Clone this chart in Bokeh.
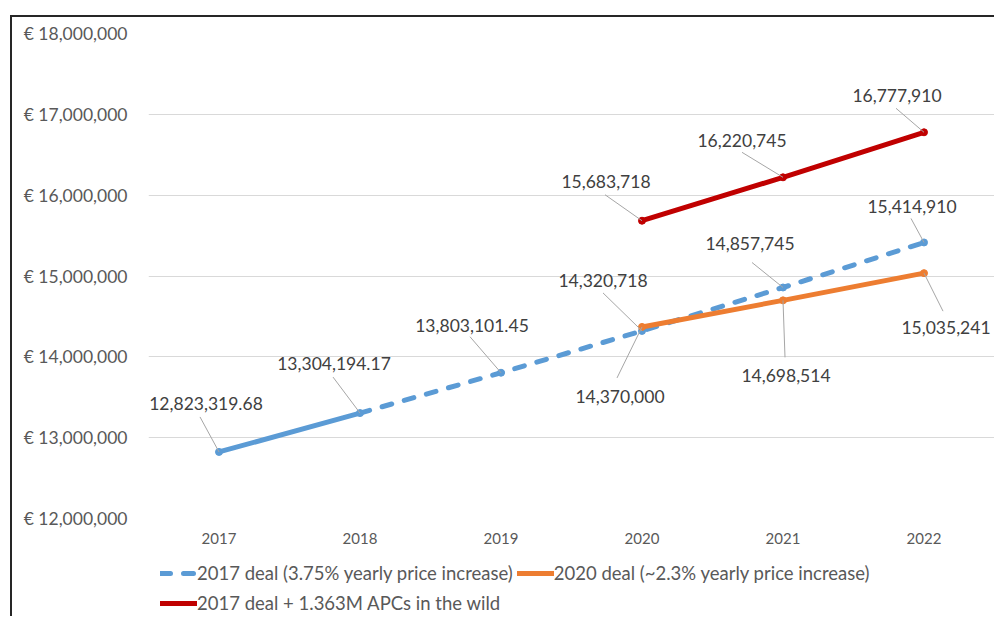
from bokeh.plotting import figure
from bokeh.layouts import column
from bokeh.models import Range1d, FixedTicker, Legend, LegendItem
from bokeh.core.properties import value
from bokeh.embed import file_html
from bokeh.resources import INLINE

# ---------------- data ----------------
years = ["2017", "2018", "2019", "2020", "2021", "2022"]
deal_2017 = [12823319.68, 13304194.17, 13803101.45, 14320718, 14857745, 15414910]
deal_2020_years = ["2020", "2021", "2022"]
deal_2020 = [14370000, 14698514, 15035241]
apc_years = ["2020", "2021", "2022"]
deal_2017_apc = [15683718, 16220745, 16777910]
y_ticks = [12000000, 13000000, 14000000, 15000000, 16000000, 17000000, 18000000]
y_tick_labels = ["€ 12,000,000", "€ 13,000,000", "€ 14,000,000", "€ 15,000,000",
                 "€ 16,000,000", "€ 17,000,000", "€ 18,000,000"]
series_names = ["2017 deal (3.75% yearly price increase)",
                "2020 deal (~2.3% yearly price increase)",
                "2017 deal + 1.363M APCs in the wild"]

# ---------------- styles ----------------
BLUE, ORANGE, RED = "#5B9BD5", "#ED7D31", "#C00000"
FONT = "Lato"
LABEL_COLOR = "#404040"
AXIS_COLOR = "#595959"
DASH = "10 13"

# label offsets (screen px, +y = down): label centre, leader start
blue_lbl = [(-13, -48), (-26, -50), (-29, -47), (-39, -50), (-33, -44), (-12, -36)]
blue_ldr = [(-19, -35), (-27, -36), (-31, -36), (-39, -38), (-31, -25), (-13, -24)]
orange_lbl = [(-22, 70), (3, 75), (22, 54)]
orange_ldr = [(-25, 51), (2, 57), (19, 38)]
red_lbl = [(-36, -39), (-41, -37), (-27, -37)]
red_ldr = [(-37, -26), (-41, -25), (-28, -24)]

W, H = 982, 543
LEG_H = 56
MB_L, MB_R, MB_T, MB_B = 136, 0, 16, 42
FW = W - MB_L - MB_R
FH = H - MB_T - MB_B
X_LO, X_HI = -0.5, len(years) - 0.5
Y_LO, Y_HI = y_ticks[0], y_ticks[-1]
px_x = FW / (X_HI - X_LO)
px_y = FH / (Y_HI - Y_LO)


def fmt(v):
    return f"{v:,.2f}" if v % 1 else f"{v:,.0f}"


p = figure(width=W, height=H, x_range=Range1d(X_LO, X_HI), y_range=Range1d(Y_LO, Y_HI),
           output_backend="svg", toolbar_location=None,
           min_border_left=MB_L, min_border_right=MB_R, min_border_top=MB_T,
           min_border_bottom=MB_B)
p.outline_line_color = None
p.xgrid.visible = False
p.ygrid.ticker = FixedTicker(ticks=y_ticks)
p.ygrid.grid_line_color = "#D9D9D9"
p.ygrid.grid_line_width = 1

p.yaxis.ticker = FixedTicker(ticks=y_ticks)
p.yaxis.major_label_overrides = {t: l for t, l in zip(y_ticks, y_tick_labels)}
p.xaxis.ticker = FixedTicker(ticks=list(range(len(years))))
p.xaxis.major_label_overrides = {i: y for i, y in enumerate(years)}
for ax in (p.xaxis, p.yaxis):
    ax.axis_line_color = None
    ax.major_tick_line_color = None
    ax.minor_tick_line_color = None
    ax.major_tick_out = 0
    ax.major_label_text_color = AXIS_COLOR
    ax.major_label_text_font = FONT
p.yaxis.major_label_text_font_size = "17.5px"
p.yaxis.major_label_standoff = 21
p.xaxis.major_label_text_font_size = "15px"
p.xaxis.major_label_standoff = 14

bx = list(range(len(years)))
ox = [years.index(y) for y in deal_2020_years]
rx = [years.index(y) for y in apc_years]

p.line(bx[:2], deal_2017[:2], line_color=BLUE, line_width=5, line_cap="round")
p.line(bx[1:], deal_2017[1:], line_color=BLUE, line_width=5, line_cap="round", line_dash=DASH)
p.scatter(bx, deal_2017, size=7, color=BLUE)
p.line(ox, deal_2020, line_color=ORANGE, line_width=5, line_cap="round")
p.scatter(ox, deal_2020, size=7, color=ORANGE)
p.line(rx, deal_2017_apc, line_color=RED, line_width=5, line_cap="round")
p.scatter(rx, deal_2017_apc, size=7, color=RED)

# data labels with leader lines
lx, ly, tx, ty, txt, sx0, sy0 = [], [], [], [], [], [], []
for xs, vals, lbls, ldrs in ((bx, deal_2017, blue_lbl, blue_ldr),
                             (ox, deal_2020, orange_lbl, orange_ldr),
                             (rx, deal_2017_apc, red_lbl, red_ldr)):
    for x, v, (ldx, ldy), (sdx, sdy) in zip(xs, vals, lbls, ldrs):
        tx.append(x + ldx / px_x)
        ty.append(v - ldy / px_y)
        txt.append(fmt(v))
        sx0.append(x + sdx / px_x)
        sy0.append(v - sdy / px_y)
        lx.append(x)
        ly.append(v)

p.segment(x0=sx0, y0=sy0, x1=lx, y1=ly, line_color="#A6A6A6", line_width=1)
p.text(x=tx, y=ty, text=txt, text_align="center", text_baseline="middle",
       text_font=value(FONT), text_font_size="17.5px", text_color=LABEL_COLOR)

# legend strip below the chart (legend-only renderers sit outside its visible range)
q = figure(width=W, height=LEG_H, x_range=Range1d(0, 1), y_range=Range1d(0, 1),
           output_backend="svg", toolbar_location=None, x_axis_type=None, y_axis_type=None,
           min_border=0)
q.outline_line_color = None
q.grid.visible = False
off = [5, 6]
lb = q.line(off, off, line_color=BLUE, line_width=5, line_cap="round", line_dash=DASH)
lo = q.line(off, off, line_color=ORANGE, line_width=5, line_cap="round")
lr = q.line(off, off, line_color=RED, line_width=5, line_cap="round")
legend = Legend(items=[LegendItem(label=series_names[0], renderers=[lb]),
                       LegendItem(label=series_names[1], renderers=[lo]),
                       LegendItem(label=series_names[2], renderers=[lr])],
                location=(12, 0), orientation="horizontal", ncols=2,
                padding=0, margin=0, spacing=4, glyph_width=37, glyph_height=26,
                label_height=26, label_standoff=0,
                label_text_font=FONT, label_text_font_size="18.5px",
                label_text_color=AXIS_COLOR, border_line_color=None,
                background_fill_alpha=0)
q.add_layout(legend)

layout = column(p, q, spacing=0)
layout.margin = (15, 0, 0, 10)
layout.styles = {"border-top": "2px solid #262626", "border-left": "2px solid #262626"}

open("out.html", "w").write(file_html(layout, INLINE))
